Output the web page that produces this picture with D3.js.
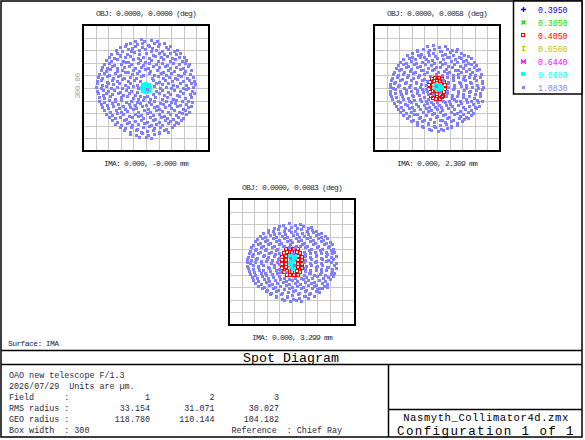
<!DOCTYPE html>
<html>
<head>
<meta charset="utf-8">
<script src="https://cdn.jsdelivr.net/npm/d3@7"></script>
<style>
  body { margin: 0; background: #fff; }
  text { font-family: "Liberation Mono", "DejaVu Sans Mono", monospace; white-space: pre; }
</style>
</head>
<body>
<div id="chart"></div>
<script>
const width = 585;
const height = 440;

const wavelengths = ["0.3950", "0.3850", "0.4050", "0.6560", "0.6440", "0.6680", "1.0830"];
const objLabels = ["OBJ: 0.0000, 0.0000 (deg)", "OBJ: 0.0000, 0.0058 (deg)", "OBJ: 0.0000, 0.0083 (deg)"];
const imaLabels = ["IMA: 0.000, -0.000 mm", "IMA: 0.000, 2.309 mm", "IMA: 0.000, 3.299 mm"];
const fieldNumbers = [1, 2, 3];
const rmsRadius = [33.154, 31.071, 30.027];
const geoRadius = [118.780, 110.144, 104.182];
const boxWidth = 300;
const headerLines = ["OAO new telescope F/1.3", "2026/07/29  Units are \u00b5m."];
const lensFile = "Nasmyth_Collimator4d.zmx";
const configText = "Configuration 1 of 1";

// spot positions in µm
const spots1_0668 = [[-10,0],[-7,8],[0,10],[8,7],[10,-1],[7,-8],[0,-10],[-8,-7],[-3,3],[4,2],[0,-3],[-4,-5],[5,-4]];
const spots1_1083 = [
  [-27,113],[-12,116],[-4,111],[13,114],[26,112],
  [-48,104],[-37,108],[-22,105],[-9,107],[5,103],[18,107],[31,104],[44,108],
  [-62,97],[-51,100],[-33,96],[-26,101],[-10,97],[8,99],[15,95],[29,100],[47,97],[58,99],
  [-72,91],[-58,88],[-44,92],[-35,87],[-17,90],[-2,93],[12,88],[24,91],[38,87],[53,92],[66,89],[74,91],
  [-83,80],[-69,84],[-61,79],[-45,82],[-28,85],[-16,80],[0,83],[17,79],[30,84],[43,81],[57,84],[71,80],[82,83],
  [-89,75],[-76,72],[-63,76],[-49,73],[-38,77],[-20,72],[-8,75],[7,71],[22,76],[35,73],[49,77],[62,72],[78,75],[90,73],
  [-96,67],[-84,64],[-70,68],[-55,65],[-42,63],[-31,68],[-14,66],[-2,63],[13,67],[28,64],[41,69],[56,65],[69,68],[85,64],[96,67],
  [-101,57],[-88,60],[-77,55],[-60,58],[-48,61],[-35,56],[-20,59],[-6,55],[8,60],[23,57],[37,60],[50,55],[65,59],[79,56],[93,60],[102,57],
  [-105,51],[-93,48],[-80,52],[-68,47],[-52,50],[-40,53],[-26,48],[-12,51],[4,47],[17,52],[31,49],[46,52],[58,47],[72,51],[88,48],[101,52],
  [-108,43],[-96,40],[-86,45],[-70,41],[-58,44],[-44,39],[-30,43],[-17,40],[-3,45],[10,41],[25,44],[40,39],[52,43],[67,40],[81,45],[94,41],[107,43],
  [-111,33],[-100,36],[-88,31],[-75,35],[-62,32],[-49,37],[-34,33],[-22,36],[-8,31],[6,35],[20,32],[36,36],[47,31],[60,35],[76,32],[90,36],[104,33],
  [-114,27],[-104,24],[-92,28],[-79,25],[-66,29],[-52,24],[-39,27],[-25,23],[-12,28],[14,25],[28,29],[41,24],[55,27],[69,23],[84,28],[97,25],[111,27],
  [-116,17],[-107,20],[-94,15],[-82,19],[-69,16],[-56,21],[-42,17],[-28,20],[-15,16],[17,20],[31,15],[45,19],[61,16],[74,21],[87,17],[102,20],[114,16],
  [-117,11],[-104,8],[-91,12],[-78,9],[-64,13],[-50,8],[-37,11],[-22,7],[24,12],[37,9],[52,12],[65,7],[80,11],[95,8],[108,12],[117,9],
  [-118,3],[-108,-1],[-96,4],[-83,0],[-70,3],[-57,-1],[-43,2],[-30,5],[-18,-1],[2,-2],[20,4],[33,-1],[47,3],[60,0],[73,4],[88,1],[101,-1],[113,3],
  [-117,-7],[-103,-4],[-90,-8],[-76,-5],[-63,-9],[-48,-4],[-35,-7],[-22,-10],[23,-8],[39,-5],[53,-9],[67,-4],[82,-7],[96,-3],[110,-8],
  [-115,-13],[-102,-16],[-95,-11],[-81,-15],[-66,-12],[-54,-17],[-40,-13],[-27,-16],[-14,-19],[3,-18],[16,-15],[30,-12],[44,-17],[58,-14],[74,-16],[89,-12],[104,-15],[115,-12],
  [-113,-21],[-100,-24],[-86,-20],[-73,-25],[-59,-22],[-46,-19],[-32,-24],[-19,-26],[-5,-22],[9,-25],[22,-21],[37,-26],[51,-22],[64,-25],[78,-20],[93,-24],[107,-21],
  [-111,-30],[-99,-33],[-88,-28],[-74,-32],[-60,-29],[-47,-34],[-36,-30],[-21,-33],[-8,-29],[6,-34],[20,-31],[33,-35],[48,-30],[59,-33],[72,-28],[86,-32],[99,-30],[110,-34],
  [-108,-37],[-94,-40],[-82,-36],[-67,-39],[-55,-42],[-41,-37],[-27,-40],[-14,-36],[0,-41],[13,-38],[27,-42],[40,-37],[55,-40],[68,-36],[81,-41],[96,-38],[106,-42],
  [-104,-45],[-91,-48],[-78,-44],[-64,-47],[-51,-50],[-37,-45],[-24,-48],[-10,-44],[5,-49],[18,-46],[32,-50],[46,-45],[60,-48],[74,-44],[88,-49],[101,-46],
  [-100,-53],[-86,-56],[-72,-52],[-60,-57],[-45,-54],[-31,-51],[-18,-56],[-4,-53],[10,-57],[24,-52],[38,-55],[52,-58],[66,-53],[79,-56],[93,-52],[102,-56],
  [-95,-61],[-81,-64],[-68,-60],[-54,-63],[-40,-66],[-26,-61],[-12,-64],[2,-60],[16,-65],[31,-62],[44,-66],[58,-61],[71,-64],[86,-60],[96,-63],
  [-88,-69],[-74,-72],[-61,-68],[-47,-73],[-33,-70],[-19,-67],[-6,-72],[9,-69],[22,-73],[36,-68],[50,-71],[64,-74],[77,-69],[89,-72],
  [-82,-77],[-68,-80],[-53,-76],[-40,-81],[-26,-78],[-11,-75],[2,-80],[17,-77],[30,-81],[45,-76],[58,-79],[72,-82],[83,-77],
  [-74,-85],[-60,-88],[-46,-84],[-33,-89],[-18,-86],[-4,-83],[11,-88],[24,-85],[39,-89],[53,-84],[66,-87],[75,-84],
  [-63,-93],[-50,-96],[-36,-92],[-22,-97],[-8,-94],[6,-91],[20,-96],[34,-93],[48,-97],[61,-92],
  [-52,-101],[-38,-104],[-25,-100],[-11,-105],[3,-102],[17,-99],[31,-104],[44,-100],[53,-104],
  [-37,-109],[-23,-112],[-9,-108],[5,-113],[18,-110],[32,-107],
  [-16,-117],[0,-116],[13,-118]
];

const spots2_0405 = [
  [-12,22],[-4,25],[4,25],[12,22],[-16,14],[-8,16],[0,18],[8,16],[16,14],[-18,6],[-10,8],[10,8],[18,6],
  [-18,-2],[-10,0],[10,0],[18,-2],[-17,-10],[-9,-8],[9,-8],[17,-10],[-15,-18],[-7,-16],[0,-14],[7,-16],[15,-18],
  [-10,-24],[-2,-26],[6,-25],[12,-22],[0,6],[-4,-6],[5,-4]
];
const spots2_0668 = [[-4,6],[2,8],[8,7],[12,3],[-4,0],[2,1],[8,-1],[12,-3],[0,-4],[6,-5]];
const spots2_1083 = [
  [-24,99],[-10,102],[4,98],[19,101],
  [-47,91],[-33,94],[-20,90],[-6,93],[9,89],[23,94],[36,91],[48,93],
  [-60,84],[-47,87],[-38,82],[-22,86],[-9,83],[6,87],[18,82],[32,85],[45,88],[58,83],
  [-71,78],[-59,75],[-45,79],[-31,74],[-18,78],[-4,76],[11,79],[24,74],[37,78],[52,75],[64,79],[73,76],
  [-80,69],[-67,72],[-53,68],[-41,73],[-27,70],[-12,67],[1,72],[15,69],[29,73],[42,68],[57,71],[69,67],[81,71],
  [-87,63],[-75,60],[-62,64],[-49,59],[-35,62],[-22,65],[-8,60],[7,63],[20,59],[34,64],[48,61],[61,65],[73,60],[87,63],
  [-93,54],[-80,57],[-68,53],[-55,56],[-41,52],[-28,57],[-15,54],[-2,51],[13,56],[27,53],[40,57],[54,52],[67,55],[81,58],[94,54],
  [-98,48],[-86,45],[-73,50],[-61,46],[-47,49],[-33,44],[-21,48],[-7,45],[8,50],[21,46],[35,49],[49,44],[62,48],[76,45],[88,50],[99,46],
  [-102,39],[-90,42],[-78,37],[-64,41],[-52,38],[-38,43],[-25,39],[-12,42],[2,37],[16,41],[29,38],[43,42],[57,37],[70,41],[83,38],[96,42],
  [-105,33],[-94,30],[-82,34],[-69,31],[-56,35],[-43,30],[-30,33],[-17,29],[-3,34],[11,31],[24,35],[38,30],[51,34],[64,29],[78,33],[91,30],[104,34],
  [-108,24],[-96,27],[-84,22],[-71,26],[-58,23],[-45,27],[-32,22],[24,26],[37,23],[50,27],[63,22],[76,26],[89,23],[102,27],
  [-110,18],[-100,15],[-88,19],[-75,14],[-62,18],[-49,15],[-36,19],[-24,16],[25,15],[39,19],[52,14],[66,18],[79,15],[93,19],[106,16],
  [-111,9],[-102,12],[-90,7],[-77,11],[-64,8],[-51,12],[-38,9],[-26,6],[27,11],[40,8],[54,12],[68,7],[81,11],[95,8],[108,12],
  [-113,3],[-104,-1],[-92,4],[-79,0],[-66,3],[-53,-1],[-40,2],[-27,-2],[27,3],[41,-1],[56,4],[69,0],[83,3],[97,-1],[110,2],
  [-112,-6],[-100,-3],[-87,-7],[-74,-4],[-61,-8],[-48,-5],[-35,-3],[-24,-8],[24,-6],[38,-3],[51,-7],[64,-4],[78,-8],[92,-5],[106,-3],
  [-111,-14],[-99,-11],[-86,-15],[-73,-12],[-60,-16],[-47,-13],[-34,-10],[-22,-15],[23,-12],[36,-16],[49,-11],[63,-14],[76,-10],[90,-15],[103,-12],
  [-109,-19],[-97,-22],[-84,-18],[-70,-23],[-57,-20],[-44,-17],[-31,-22],[-22,-27],[22,-20],[35,-23],[48,-18],[62,-22],[75,-19],[89,-23],[102,-20],
  [-106,-27],[-93,-30],[-81,-26],[-67,-31],[-54,-28],[-41,-25],[-27,-30],[-14,-33],[0,-34],[14,-32],[28,-32],[41,-27],[55,-30],[68,-26],[82,-31],[95,-28],[106,-30],
  [-102,-36],[-89,-33],[-77,-38],[-63,-34],[-50,-37],[-37,-32],[-23,-36],[-10,-38],[5,-40],[18,-34],[31,-37],[45,-32],[58,-36],[72,-33],[85,-38],[98,-34],
  [-98,-42],[-86,-45],[-72,-41],[-59,-46],[-46,-43],[-32,-40],[-19,-45],[-5,-45],[9,-46],[22,-41],[36,-44],[49,-40],[63,-45],[76,-42],[90,-46],[99,-42],
  [-94,-49],[-80,-52],[-67,-48],[-54,-53],[-41,-50],[-27,-47],[-14,-52],[0,-49],[13,-53],[27,-48],[40,-51],[54,-54],[67,-49],[81,-52],[92,-48],
  [-87,-57],[-74,-60],[-61,-56],[-47,-61],[-34,-58],[-21,-55],[-7,-60],[7,-57],[20,-61],[34,-56],[47,-59],[61,-62],[74,-57],[86,-60],
  [-80,-64],[-67,-67],[-54,-63],[-41,-68],[-27,-65],[-13,-62],[0,-67],[14,-64],[28,-68],[41,-63],[55,-66],[68,-69],[80,-64],
  [-71,-72],[-58,-75],[-44,-71],[-31,-76],[-17,-73],[-3,-70],[11,-75],[24,-72],[38,-76],[52,-71],[64,-74],[73,-71],
  [-62,-79],[-48,-82],[-35,-78],[-21,-83],[-7,-80],[6,-77],[20,-82],[34,-79],[47,-83],[60,-78],
  [-48,-87],[-35,-90],[-21,-86],[-7,-91],[7,-88],[21,-85],[34,-90],[47,-87],
  [-33,-94],[-19,-97],[-5,-93],[9,-98],[23,-95],[34,-92],
  [-14,-101],[2,-103],[15,-100],
  [-2,4],[6,-10],[-10,-14],[14,18]
];

const spots3_0405 = [
  [-14,30],[-5,32],[5,32],[14,30],[-20,22],[-11,24],[0,25],[11,24],[20,22],[-23,13],[-14,15],[14,15],[23,13],
  [-24,4],[-15,5],[15,5],[24,4],[-24,-5],[-15,-4],[15,-4],[24,-5],[-23,-14],[-14,-13],[14,-13],[23,-14],
  [-20,-23],[-11,-22],[0,-24],[11,-22],[20,-23],[-13,-30],[-4,-32],[5,-32],[14,-30],[-6,16],[6,16],[-8,-6],[8,6],[0,-14]
];
const spots3_0668 = [[-4,14],[2,16],[6,10],[-3,6],[3,2],[-5,-2],[1,-6],[-3,-12],[2,-16],[6,14],[4,-10]];
const spots3_1083 = [
  [-22,89],[-8,92],[6,88],[20,91],
  [-44,82],[-31,85],[-17,81],[-3,84],[11,80],[25,85],[38,82],[46,84],
  [-58,77],[-46,74],[-33,78],[-20,73],[-6,77],[8,75],[21,78],[35,73],[47,77],[58,74],
  [-69,68],[-57,71],[-44,66],[-30,70],[-17,67],[-3,71],[11,66],[24,70],[37,67],[50,71],[62,66],[70,69],
  [-77,63],[-64,60],[-52,64],[-38,59],[-25,63],[-11,60],[2,64],[16,59],[29,63],[43,60],[56,64],[68,59],[78,62],
  [-83,54],[-71,57],[-59,52],[-45,56],[-32,53],[-19,57],[-5,52],[9,56],[22,53],[36,57],[49,52],[62,56],[74,53],[84,57],
  [-89,49],[-77,46],[-65,50],[-52,45],[-39,49],[-26,46],[-12,50],[1,47],[15,50],[28,45],[42,49],[55,46],[68,50],[80,45],[90,48],
  [-94,40],[-82,43],[-70,38],[-57,42],[-44,39],[-31,43],[-18,38],[-4,42],[9,39],[23,43],[36,38],[50,42],[63,39],[76,43],[88,39],[95,42],
  [-98,35],[-86,32],[-74,36],[-61,31],[-48,35],[-35,32],[-22,37],[-8,36],[6,36],[19,37],[32,35],[46,32],[59,36],[72,31],[85,35],[97,32],
  [-100,26],[-89,29],[-77,24],[-64,28],[-51,25],[-38,29],[28,24],[41,28],[54,25],[67,29],[80,24],[92,28],[101,25],
  [-103,21],[-92,18],[-80,22],[-67,17],[-54,21],[-41,18],[-30,22],[31,19],[44,22],[57,17],[70,21],[83,18],[96,22],
  [-105,12],[-95,15],[-83,10],[-70,14],[-57,11],[-44,15],[-31,10],[30,14],[43,11],[56,15],[69,10],[82,14],[94,11],[105,14],
  [-106,7],[-97,4],[-86,8],[-73,3],[-60,7],[-47,4],[-34,8],[32,5],[45,8],[58,3],[72,7],[85,4],[98,8],
  [-107,0],[-99,-3],[-88,1],[-75,-2],[-62,2],[-49,-3],[-36,1],[29,0],[42,-3],[55,1],[68,-2],[81,2],[93,-1],[104,-3],
  [-106,-9],[-94,-6],[-82,-10],[-69,-7],[-56,-11],[-43,-8],[-31,-5],[33,-9],[46,-6],[59,-10],[72,-7],[85,-11],[99,-8],
  [-105,-14],[-93,-17],[-81,-13],[-68,-18],[-55,-15],[-42,-12],[-30,-17],[31,-14],[44,-18],[57,-13],[70,-16],[83,-12],[96,-17],[104,-14],
  [-102,-21],[-90,-24],[-78,-20],[-65,-25],[-52,-22],[-39,-19],[-28,-24],[30,-21],[43,-25],[56,-20],[69,-23],[82,-19],[95,-24],
  [-99,-28],[-87,-31],[-74,-27],[-61,-32],[-48,-29],[-35,-26],[28,-30],[40,-27],[53,-31],[66,-28],[79,-32],[92,-29],[101,-26],
  [-96,-35],[-84,-38],[-71,-34],[-58,-39],[-45,-36],[-32,-33],[-19,-38],[-6,-40],[8,-38],[21,-39],[34,-35],[47,-38],[60,-34],[73,-39],[86,-36],[97,-33],
  [-92,-42],[-80,-45],[-67,-41],[-54,-46],[-41,-43],[-28,-40],[-14,-45],[-1,-44],[13,-46],[26,-41],[39,-44],[52,-47],[65,-42],[78,-45],[91,-41],
  [-87,-49],[-74,-52],[-61,-48],[-48,-53],[-35,-50],[-21,-47],[-8,-52],[6,-49],[19,-53],[32,-48],[45,-51],[58,-54],[71,-49],[84,-52],
  [-80,-56],[-67,-59],[-54,-55],[-41,-60],[-28,-57],[-14,-54],[-1,-59],[13,-56],[26,-60],[39,-55],[52,-58],[65,-61],[77,-56],[84,-59],
  [-72,-63],[-59,-66],[-46,-62],[-33,-67],[-20,-64],[-6,-61],[7,-66],[21,-63],[34,-67],[47,-62],[60,-65],[72,-62],
  [-63,-70],[-50,-73],[-37,-69],[-24,-74],[-10,-71],[3,-68],[17,-73],[30,-70],[43,-74],[56,-69],[64,-72],
  [-52,-77],[-39,-80],[-26,-76],[-12,-81],[1,-78],[15,-75],[28,-80],[41,-77],[52,-81],
  [-38,-84],[-25,-87],[-11,-83],[3,-88],[17,-85],[30,-82],[38,-86],
  [-18,-91],[-4,-93],[10,-90],[22,-92],
  [-4,10],[5,-6],[2,22],[-14,-24]
];

const fieldSpots = [
  { "0.6680": spots1_0668, "1.0830": spots1_1083 },
  { "0.4050": spots2_0405, "0.6680": spots2_0668, "1.0830": spots2_1083 },
  { "0.4050": spots3_0405, "0.6680": spots3_0668, "1.0830": spots3_1083 }
];

const colors = ["#0000ff", "#00dd00", "#ff0000", "#c0c000", "#ff00ff", "#00ffff", "#8080ff"];
const textColor = "#2a2a3a";

const svg = d3.select("#chart")
  .append("svg")
  .attr("width", width)
  .attr("height", height);

// marker shapes, one per wavelength (Zemax style); cx, cy are whole pixels
function drawSymbol(g, w, cx, cy) {
  const c = colors[w];
  if (w === 0) {
    g.append("path").attr("d", `M${cx - 2},${cy + 0.5}H${cx + 3}M${cx + 0.5},${cy - 2}V${cy + 3}`)
      .attr("stroke", c).attr("stroke-width", 1.3);
  } else if (w === 1) {
    g.append("path").attr("d", `M${cx - 1.5},${cy - 1.5}L${cx + 2.5},${cy + 2.5}M${cx - 1.5},${cy + 2.5}L${cx + 2.5},${cy - 1.5}`)
      .attr("stroke", c).attr("stroke-width", 1.3);
  } else if (w === 2) {
    g.append("rect").attr("x", cx - 1.5).attr("y", cy - 1.5).attr("width", 3).attr("height", 3)
      .attr("fill", "none").attr("stroke", c).attr("stroke-width", 1);
  } else if (w === 3) {
    g.append("path").attr("d", `M${cx - 1},${cy - 1.5}H${cx + 2}M${cx + 0.5},${cy - 1.5}V${cy + 2.5}M${cx - 1},${cy + 2.5}H${cx + 2}`)
      .attr("stroke", c).attr("stroke-width", 1.2);
  } else if (w === 4) {
    g.append("path").attr("d", `M${cx - 1.5},${cy - 2}V${cy + 3}L${cx + 2.5},${cy - 2}V${cy + 3}Z`)
      .attr("fill", c).attr("stroke", c).attr("stroke-width", 0.6);
  } else if (w === 5) {
    g.append("rect").attr("x", cx - 2).attr("y", cy - 2).attr("width", 4).attr("height", 4)
      .attr("fill", c).attr("shape-rendering", "crispEdges");
  } else {
    g.append("rect").attr("x", cx - 1).attr("y", cy - 1).attr("width", 3).attr("height", 3)
      .attr("fill", c).attr("shape-rendering", "crispEdges");
  }
}

// outer frame and title block
const frame = svg.append("g").attr("stroke", "#000").attr("stroke-width", 1.5).attr("fill", "none");
frame.append("rect").attr("x", 1).attr("y", 1).attr("width", 581).attr("height", 436);
frame.append("line").attr("x1", 1).attr("x2", 582).attr("y1", 350.5).attr("y2", 350.5);
frame.append("line").attr("x1", 1).attr("x2", 582).attr("y1", 364.5).attr("y2", 364.5);
frame.append("line").attr("x1", 388.5).attr("x2", 388.5).attr("y1", 364.5).attr("y2", 437);
frame.append("line").attr("x1", 388.5).attr("x2", 582).attr("y1", 409.5).attr("y2", 409.5);

const boxSize = 126;
const panelPos = [[83, 25], [374, 25], [229, 199]];

panelPos.forEach(([px, py], i) => {
  const x = d3.scaleLinear().domain([-boxWidth / 2, boxWidth / 2]).range([px, px + boxSize]);
  const y = d3.scaleLinear().domain([-boxWidth / 2, boxWidth / 2]).range([py + boxSize, py]);
  const gridVals = d3.range(-boxWidth / 2 + boxWidth / 10, boxWidth / 2, boxWidth / 10);
  const g = svg.append("g");

  g.selectAll(".gx")
    .data(gridVals)
    .join("line")
    .attr("x1", d => Math.round(x(d)) + 0.5)
    .attr("x2", d => Math.round(x(d)) + 0.5)
    .attr("y1", py)
    .attr("y2", py + boxSize)
    .attr("stroke", "#c8c8c8");

  g.selectAll(".gy")
    .data(gridVals)
    .join("line")
    .attr("y1", d => Math.round(y(d)) + 0.5)
    .attr("y2", d => Math.round(y(d)) + 0.5)
    .attr("x1", px)
    .attr("x2", px + boxSize)
    .attr("stroke", "#c8c8c8");

  wavelengths.forEach((wl, w) => {
    const pts = fieldSpots[i][wl] || [];
    const sg = g.append("g");
    pts.forEach(d => drawSymbol(sg, w, Math.round(x(d[0])), Math.round(y(d[1]))));
  });

  g.append("rect")
    .attr("x", px)
    .attr("y", py)
    .attr("width", boxSize)
    .attr("height", boxSize)
    .attr("fill", "none")
    .attr("stroke", "#000")
    .attr("stroke-width", 2);

  g.append("text")
    .attr("x", px + boxSize / 2)
    .attr("y", py - 9)
    .attr("text-anchor", "middle")
    .attr("font-size", 8)
    .attr("letter-spacing", -0.8)
    .attr("fill", textColor)
    .text(objLabels[i]);

  g.append("text")
    .attr("x", px + boxSize / 2)
    .attr("y", py + boxSize + 15)
    .attr("text-anchor", "middle")
    .attr("font-size", 8)
    .attr("letter-spacing", -0.8)
    .attr("fill", textColor)
    .text(imaLabels[i]);

  if (i === 0) {
    g.append("text")
      .attr("transform", `translate(${px - 3},${py + boxSize / 2 - 2}) rotate(-90)`)
      .attr("text-anchor", "middle")
      .attr("font-size", 8)
      .attr("letter-spacing", -0.6)
      .attr("fill", "#a0a0a0")
      .text(boxWidth.toFixed(2));
  }
});

// legend
const legend = svg.append("g");
legend.append("rect")
  .attr("x", 513.5).attr("y", 1).attr("width", 68.5).attr("height", 93)
  .attr("fill", "#fff").attr("stroke", "#000").attr("stroke-width", 1.5);

wavelengths.forEach((wl, w) => {
  const cy = 10 + w * 13;
  drawSymbol(legend, w, 523, cy - 1);
  legend.append("text")
    .attr("x", 538)
    .attr("y", cy + 3)
    .attr("font-size", 8.2)
    .attr("fill", colors[w])
    .text(wl);
});

svg.append("text")
  .attr("x", 8).attr("y", 346)
  .attr("font-size", 8).attr("letter-spacing", -0.6)
  .attr("fill", textColor)
  .text("Surface: IMA");

svg.append("text")
  .attr("x", 291).attr("y", 362)
  .attr("text-anchor", "middle")
  .attr("font-size", 13.3)
  .attr("fill", "#000")
  .text("Spot Diagram");

// info block
const info = svg.append("g").attr("font-size", 8.4).attr("fill", textColor);
const lineY = [377.5, 388.5, 399.5, 410.5, 421.5, 432.5];
const colX = [150, 214.5, 279];

headerLines.forEach((t, k) => info.append("text").attr("x", 9).attr("y", lineY[k]).text(t));

const rows = [
  ["Field      :", fieldNumbers.map(String)],
  ["RMS radius :", rmsRadius.map(d => d.toFixed(3))],
  ["GEO radius :", geoRadius.map(d => d.toFixed(3))]
];
rows.forEach(([label, vals], k) => {
  info.append("text").attr("x", 9).attr("y", lineY[k + 2]).text(label);
  vals.forEach((v, j) => {
    info.append("text")
      .attr("x", colX[j])
      .attr("y", lineY[k + 2])
      .attr("text-anchor", "end")
      .text(v);
  });
});
info.append("text").attr("x", 9).attr("y", lineY[5]).text(`Box width  : ${boxWidth}`);
info.append("text").attr("x", 231.5).attr("y", lineY[5]).text("Reference  : Chief Ray");

svg.append("text")
  .attr("x", 486).attr("y", 420.5)
  .attr("text-anchor", "middle")
  .attr("font-size", 10.5)
  .attr("letter-spacing", 0.6)
  .attr("fill", "#000")
  .text(lensFile);

svg.append("text")
  .attr("x", 486).attr("y", 434.5)
  .attr("text-anchor", "middle")
  .attr("font-size", 12.5)
  .attr("letter-spacing", 1.4)
  .attr("fill", "#000")
  .text(configText);
</script>
</body>
</html>
